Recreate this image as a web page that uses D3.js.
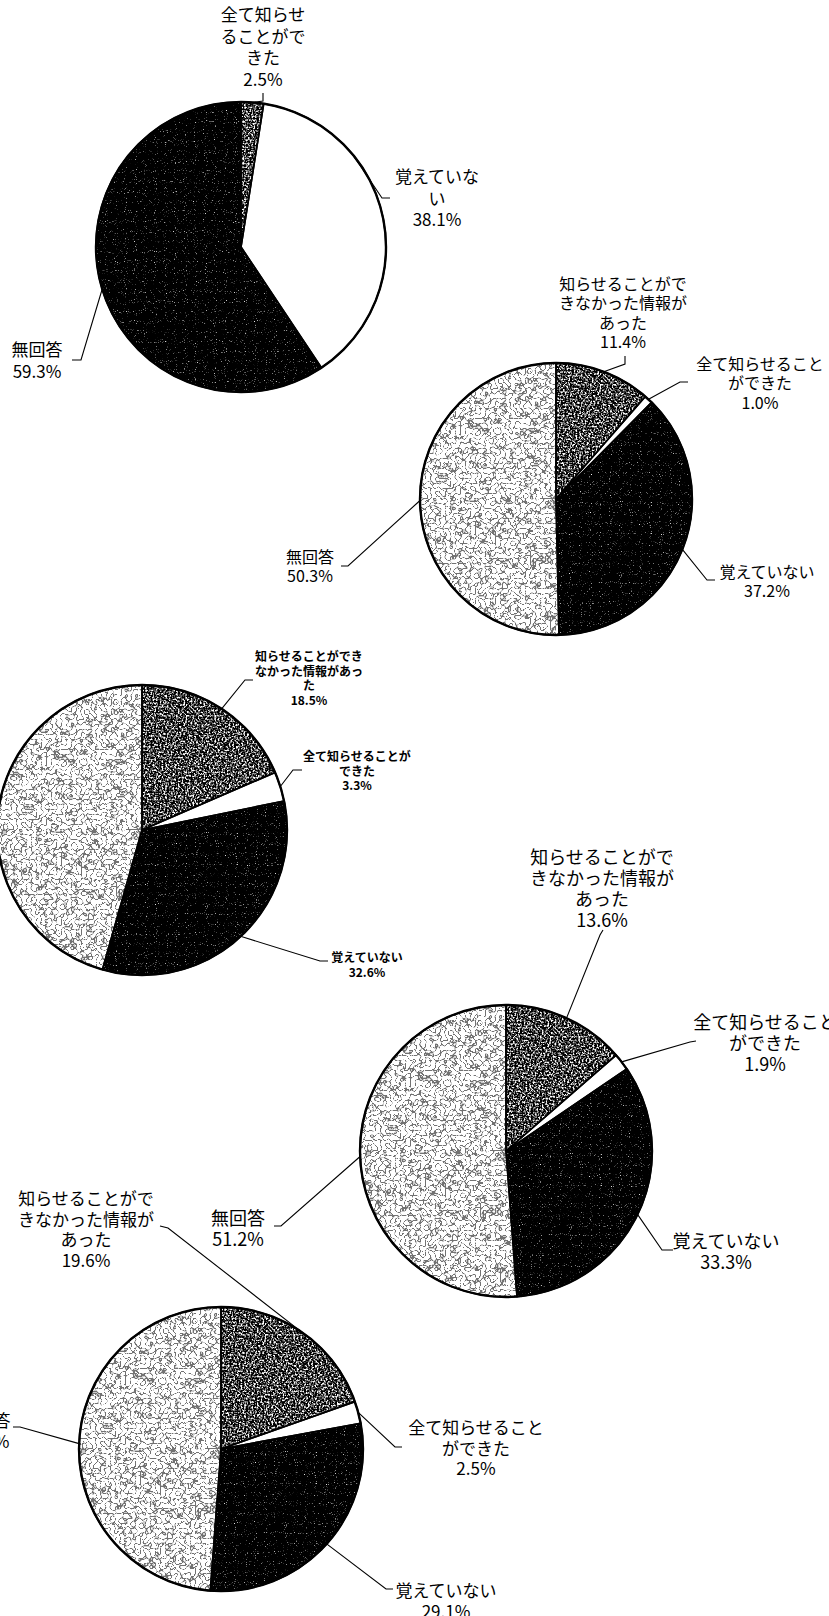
<!DOCTYPE html>
<html>
<head>
<meta charset="utf-8">
<script src="https://cdn.jsdelivr.net/npm/d3@7"></script>
<style>
  body { margin: 0; background: #fff; }
  svg { display: block; }
  text { font-family: "Noto Sans CJK JP", "Noto Sans", sans-serif; fill: #000; }
</style>
</head>
<body>
<script>
// categories
const cats4 = ["知らせることができなかった情報があった", "全て知らせることができた", "覚えていない", "無回答"];
const cats3 = ["全て知らせることができた", "覚えていない", "無回答"];

// values (%) for each pie
const pie1Values = [2.5, 38.1, 59.3];
const pie2Values = [11.4, 1.0, 37.2, 50.3];
const pie3Values = [18.5, 3.3, 32.6, 45.6];
const pie4Values = [13.6, 1.9, 33.3, 51.2];
const pie5Values = [19.6, 2.5, 29.1, 48.8];

// fill order used by the source chart (assigned by slice index)
const texOrder = ["dark", "white", "black", "light"];

const W = 829, H = 1616;
const svg = d3.select("body").append("svg").attr("width", W).attr("height", H);
svg.append("rect").attr("width", W).attr("height", H).attr("fill", "#fff");

// speckled textures like the scanned print
const defs = svg.append("defs");
function addFilter(id, type, freq, oct, seed, func) {
  const f = defs.append("filter").attr("id", id)
    .attr("color-interpolation-filters", "sRGB");
  f.append("feTurbulence").attr("type", type).attr("baseFrequency", freq)
    .attr("numOctaves", oct).attr("seed", seed).attr("result", "n");
  f.append("feColorMatrix").attr("in", "n").attr("type", "matrix")
    .attr("values", "1 0 0 0 0  1 0 0 0 0  1 0 0 0 0  0 0 0 0 1").attr("result", "g");
  const ct = f.append("feComponentTransfer").attr("in", "g").attr("result", "t");
  ["feFuncR", "feFuncG", "feFuncB"].forEach(fn => {
    const e = ct.append(fn);
    Object.entries(func).forEach(([k, v]) => e.attr(k, v));
  });
  f.append("feComposite").attr("in", "t").attr("in2", "SourceGraphic").attr("operator", "in");
}
addFilter("tex-dark", "fractalNoise", 0.55, 3, 3, {type: "linear", slope: 3.6, intercept: -1.55});
addFilter("tex-black", "fractalNoise", 0.9, 1, 5, {type: "linear", slope: 5, intercept: -3.2});
addFilter("tex-light", "turbulence", 0.2, 1, 8,
  {type: "discrete", tableValues: "0.45 0.8 1 1 1 1 1 1 1 1 1 1 1 1 1 1 1 1 1 1"});

const fmt = v => d3.format(".1f")(v) + "%";

// layout of each pie and its labels (null = label lies outside the page)
const pies = [
  {values: pie1Values, cats: cats3, cx: 241, cy: 247, r: 145, fs: 17, lh: 21.5, labels: [
    {lines: ["全て知らせ", "ることがで", "きた"], x: 263, y: 15, lead: [[263, 101], [263, 93]]},
    {lines: ["覚えていな", "い"], x: 437, y: 177, lead: [[382, 198], [390, 198]], at: 0.3},
    {lines: ["無回答"], x: 37, y: 350, lead: [[81, 360], [72, 360]]}
  ]},
  {values: pie2Values, cats: cats4, cx: 556, cy: 499, r: 136, fs: 16, lh: 19.5, labels: [
    {lines: ["知らせることがで", "きなかった情報が", "あった"], x: 623, y: 284, lead: [[625, 364], [625, 356]]},
    {lines: ["全て知らせること", "ができた"], x: 760, y: 364, lead: [[680, 382], [688, 382]]},
    {lines: ["覚えていない"], x: 767, y: 572, lead: [[707, 580], [715, 580]]},
    {lines: ["無回答"], x: 310, y: 557, lead: [[348, 566], [341, 566]]}
  ]},
  {values: pie3Values, cats: cats4, cx: 142, cy: 830, r: 145, fs: 12, lh: 14.5, bold: true, labels: [
    {lines: ["知らせることができ", "なかった情報があっ", "た"], x: 309, y: 657, lead: [[245, 680], [253, 680]]},
    {lines: ["全て知らせることが", "できた"], x: 357, y: 757, lead: [[293, 770], [302, 770]]},
    {lines: ["覚えていない"], x: 367, y: 958, lead: [[320, 961], [328, 961]]},
    null
  ]},
  {values: pie4Values, cats: cats4, cx: 506, cy: 1151, r: 146, fs: 18, lh: 20.7, labels: [
    {lines: ["知らせることがで", "きなかった情報が", "あった"], x: 602, y: 858, lead: [[600, 935], [603, 930]]},
    {lines: ["全て知らせること", "ができた"], x: 765, y: 1023, lead: [[690, 1042], [696, 1041]]},
    {lines: ["覚えていない"], x: 726, y: 1242, lead: [[662, 1250], [673, 1250]]},
    {lines: ["無回答"], x: 238, y: 1219, lead: [[281, 1226], [274, 1226]]}
  ]},
  {values: pie5Values, cats: cats4, cx: 221, cy: 1449, r: 142, fs: 17, lh: 20.5, labels: [
    {lines: ["知らせることがで", "きなかった情報が", "あった"], x: 86, y: 1199, lead: [[168, 1228], [160, 1226]]},
    {lines: ["全て知らせること", "ができた"], x: 476, y: 1428, lead: [[395, 1447], [402, 1447]]},
    {lines: ["覚えていない"], x: 446, y: 1591, lead: [[386, 1589], [393, 1589]]},
    {lines: ["無回答"], x: -15, y: 1421, lead: [[20, 1427], [13, 1427]]}
  ]}
];

const pieGen = d3.pie().sort(null).value(d => d);

pies.forEach(p => {
  const arcs = pieGen(p.values);
  const arc = d3.arc().innerRadius(0).outerRadius(p.r);
  const g = svg.append("g").attr("transform", `translate(${p.cx},${p.cy})`);

  // textured slices
  g.selectAll("path.slice").data(arcs).join("path")
    .attr("class", "slice")
    .attr("d", arc)
    .attr("fill", d => texOrder[d.index] === "white" ? "#fff" : "#000")
    .attr("filter", d => texOrder[d.index] === "white" ? null : `url(#tex-${texOrder[d.index]})`);

  // slice borders
  g.selectAll("path.edge").data(arcs).join("path")
    .attr("class", "edge")
    .attr("d", arc)
    .attr("fill", "none")
    .attr("stroke", "#000")
    .attr("stroke-width", 1.6)
    .attr("stroke-linejoin", "round");

  g.append("circle").attr("r", p.r).attr("fill", "none")
    .attr("stroke", "#000").attr("stroke-width", 2.4);

  // leader lines start on the rim inside the slice
  arcs.forEach((d, i) => {
    const lab = p.labels[i];
    if (!lab) return;
    const frac = lab.at == null ? 0.5 : lab.at;
    const a = d.startAngle + (d.endAngle - d.startAngle) * frac;
    const start = [p.cx + p.r * Math.sin(a), p.cy - p.r * Math.cos(a)];
    svg.append("path")
      .attr("d", d3.line()([start].concat(lab.lead)))
      .attr("fill", "none").attr("stroke", "#000").attr("stroke-width", 1.1);

    const t = svg.append("text")
      .attr("text-anchor", "middle")
      .attr("font-size", p.fs)
      .attr("font-weight", p.bold ? 700 : 400);
    lab.lines.concat([fmt(d.data)]).forEach((ln, k) => {
      t.append("tspan").attr("x", lab.x).attr("y", lab.y + k * p.lh)
        .attr("dy", "0.36em").text(ln);
    });
  });
});
</script>
</body>
</html>
